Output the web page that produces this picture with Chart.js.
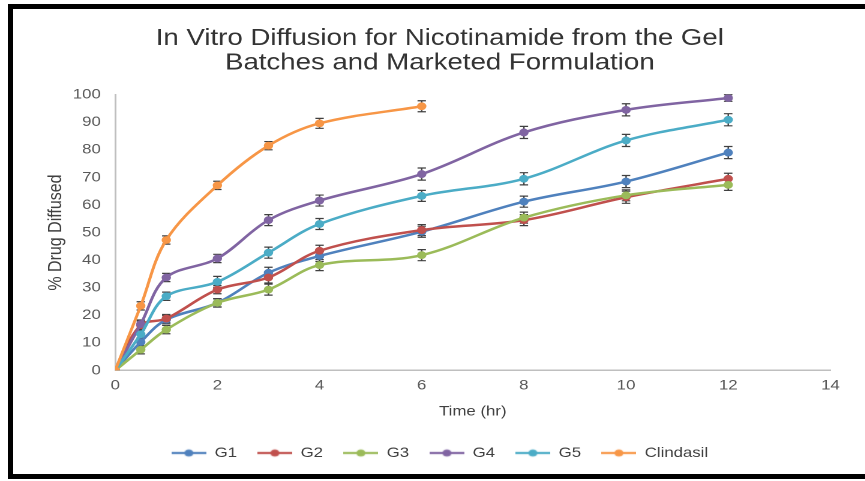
<!DOCTYPE html>
<html>
<head>
<meta charset="utf-8">
<script src="https://cdn.jsdelivr.net/npm/chart.js@4.4.1/dist/chart.umd.min.js"></script>
<style>
  html, body { margin: 0; padding: 0; background: #fff; overflow: hidden; }
  body { width: 865px; height: 481px; position: relative; }
  /* the source picture is stretched sideways, so the chart is drawn narrower and scaled */
  #wrap { position: absolute; left: 0; top: 0; width: 721px; height: 481px; transform: scaleX(1.2); transform-origin: 0 0; }
  #frame { position: absolute; left: 8px; top: 4px; width: 900px; height: 465px; border: 5px solid #000; pointer-events: none; }
</style>
</head>
<body>
<div id="wrap"><canvas id="chart" width="721" height="481"></canvas></div>
<div id="frame"></div>
<script>
// time points (hr)
const timeGels = [0, 0.5, 1, 2, 3, 4, 6, 8, 10, 12];
const timeClindasil = [0, 0.5, 1, 2, 3, 4, 6];

// % drug diffused
const g1 = [0, 10.3, 18.4, 24.5, 35.4, 41.5, 50.3, 61.2, 68.5, 79.0];
const g2 = [0, 16.4, 18.8, 29.3, 33.7, 43.4, 50.9, 54.5, 62.8, 69.5];
const g3 = [0, 7.5, 14.8, 24.5, 29.3, 38.2, 41.8, 55.4, 63.5, 67.3];
const g4 = [0, 16.8, 33.7, 40.6, 54.5, 61.6, 71.2, 86.3, 94.5, 98.8];
const g5 = [0, 13.1, 26.9, 32.1, 42.7, 53.1, 63.3, 69.5, 83.4, 90.9];
const clindasil = [0, 23.4, 47.3, 67.1, 81.5, 89.6, 95.8];

// error bar half heights
const g1Err = [0, 1.5, 1.5, 1.5, 2, 2, 2, 2, 2.2, 2.2];
const g2Err = [0, 1.5, 1.5, 1.5, 2, 2, 2, 2, 2.2, 2];
const g3Err = [0, 1.5, 1.5, 1.5, 2, 2, 2, 2, 2, 2];
const g4Err = [0, 1.5, 1.5, 1.5, 2, 2, 2.2, 2.2, 2.2, 1.2];
const g5Err = [0, 1.5, 1.5, 2, 2, 2, 2, 2.2, 2.2, 2.2];
const clindasilErr = [0, 1.5, 1.5, 1.5, 1.5, 1.8, 2];

const xTicks = { min: 0, max: 14, step: 2 };
const yTicks = { min: 0, max: 100, step: 10 };

const FONT = "'Liberation Sans', Arial, sans-serif";

const toPoints = (xs, ys) => xs.map((x, i) => ({ x: x, y: ys[i] }));

function series(label, xs, ys, errs, color, order) {
  return {
    label,
    data: toPoints(xs, ys),
    errors: errs,
    borderColor: color,
    backgroundColor: color,
    borderWidth: 2.5,
    pointRadius: 3.9,
    pointBorderWidth: 0,
    pointBackgroundColor: color,
    tension: 0.35,
    order,
  };
}

// little line + dot picture for the legend, like the Excel one
function legendMark(color) {
  const c = document.createElement("canvas");
  c.width = 29;
  c.height = 10;
  const ctx = c.getContext("2d");
  ctx.strokeStyle = color;
  ctx.lineWidth = 2.2;
  ctx.beginPath();
  ctx.moveTo(0, 5);
  ctx.lineTo(29, 5);
  ctx.stroke();
  ctx.fillStyle = color;
  ctx.beginPath();
  ctx.arc(14.5, 5, 3.6, 0, Math.PI * 2);
  ctx.fill();
  return c;
}

// draws vertical error bars with caps from each dataset's errors array
const errorBars = {
  id: "errorBars",
  beforeDatasetsDraw(chart) {
    const { ctx, scales } = chart;
    ctx.save();
    ctx.strokeStyle = "#404040";
    ctx.lineWidth = 1.2;
    chart.data.datasets.forEach((ds) => {
      ds.data.forEach((p, i) => {
        const e = ds.errors[i];
        if (!e) return;
        const x = scales.x.getPixelForValue(p.x);
        const yTop = scales.y.getPixelForValue(p.y + e);
        const yBot = scales.y.getPixelForValue(p.y - e);
        ctx.beginPath();
        ctx.moveTo(x, yTop);
        ctx.lineTo(x, yBot);
        ctx.moveTo(x - 3.5, yTop);
        ctx.lineTo(x + 3.5, yTop);
        ctx.moveTo(x - 3.5, yBot);
        ctx.lineTo(x + 3.5, yBot);
        ctx.stroke();
      });
    });
    ctx.restore();
  },
};

new Chart(document.getElementById("chart"), {
  type: "line",
  data: {
    datasets: [
      series("G1", timeGels, g1, g1Err, "#4F81BD", 5),
      series("G2", timeGels, g2, g2Err, "#C0504D", 4),
      series("G3", timeGels, g3, g3Err, "#9BBB59", 3),
      series("G4", timeGels, g4, g4Err, "#8064A2", 2),
      series("G5", timeGels, g5, g5Err, "#4BACC6", 1),
      series("Clindasil", timeClindasil, clindasil, clindasilErr, "#F79646", 0),
    ],
  },
  options: {
    responsive: false,
    animation: false,
    devicePixelRatio: 2,
    layout: { padding: { top: 14, left: 41, right: 29, bottom: 11 } },
    plugins: {
      title: {
        display: true,
        text: ["In Vitro Diffusion for Nicotinamide from the Gel", "Batches and Marketed Formulation"],
        font: { family: FONT, size: 23, weight: "normal", lineHeight: 1.08 },
        color: "#333333",
        padding: { top: 12, bottom: 19 },
      },
      legend: {
        position: "bottom",
        labels: {
          usePointStyle: true,
          pointStyleWidth: 29,
          padding: 17,
          color: "#404040",
          font: { family: FONT, size: 14 },
          sort: (a, b) => a.datasetIndex - b.datasetIndex,
          generateLabels(chart) {
            const items = Chart.defaults.plugins.legend.labels.generateLabels(chart);
            items.forEach((it) => {
              it.pointStyle = legendMark(chart.data.datasets[it.datasetIndex].borderColor);
            });
            return items;
          },
        },
      },
      tooltip: { enabled: false },
    },
    scales: {
      x: {
        type: "linear",
        min: xTicks.min,
        max: xTicks.max,
        ticks: { stepSize: xTicks.step, padding: 7, color: "#595959", font: { family: FONT, size: 14 } },
        grid: { display: false, drawTicks: false },
        border: { display: true, color: "#bfbfbf", width: 1.5 },
        title: {
          display: true,
          text: "Time (hr)",
          color: "#404040",
          font: { family: FONT, size: 14 },
          padding: { top: 2, bottom: 9 },
        },
      },
      y: {
        min: yTicks.min,
        max: yTicks.max,
        ticks: { stepSize: yTicks.step, padding: 12, color: "#595959", font: { family: FONT, size: 14 } },
        grid: { display: false, drawTicks: false },
        border: { display: true, color: "#bfbfbf", width: 1.5 },
        title: {
          display: true,
          text: "% Drug Diffused",
          color: "#404040",
          font: { family: FONT, size: 16 },
          padding: { top: -4, bottom: 0 },
        },
        afterFit(scale) {
          scale.width = 55;
        },
      },
    },
  },
  plugins: [errorBars],
});
</script>
</body>
</html>
